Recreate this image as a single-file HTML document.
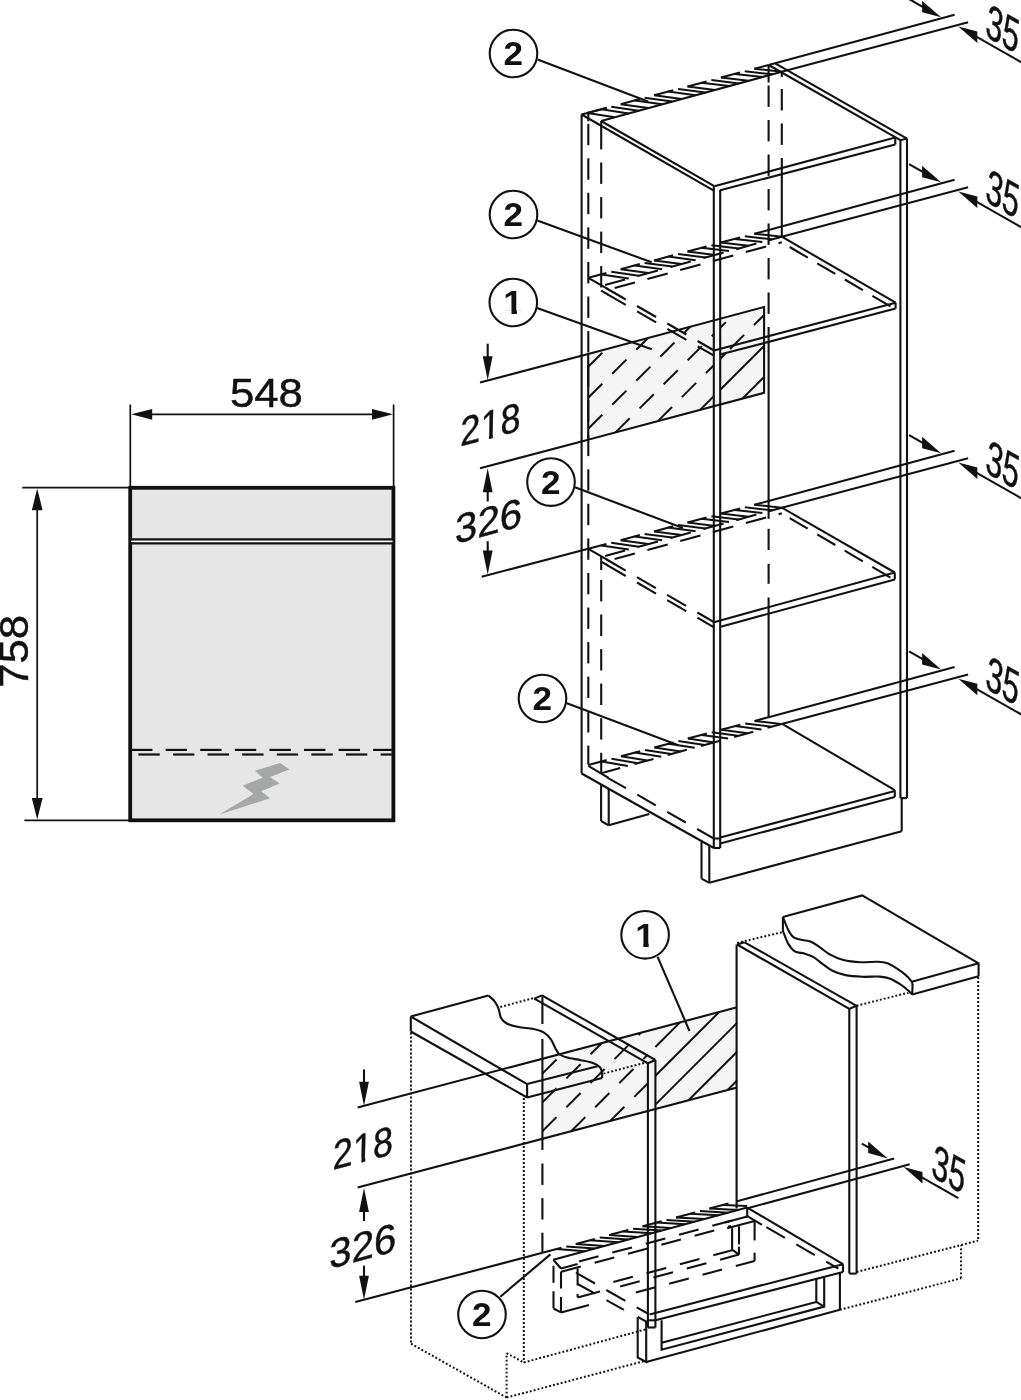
<!DOCTYPE html>
<html><head><meta charset="utf-8"><title>Installation drawing</title>
<style>
html,body{margin:0;padding:0;background:#fff}
svg{display:block;will-change:transform}
.s{fill:none;stroke:#111;stroke-width:2.1}
.s2{fill:none;stroke:#111;stroke-width:2.2}
.t{fill:none;stroke:#111;stroke-width:1.7}
.d{fill:none;stroke:#111;stroke-width:1.85;stroke-dasharray:17 8.5}
.h{fill:none;stroke:#111;stroke-width:2}
.hd{fill:none;stroke:#111;stroke-width:1.5;stroke-dasharray:20 10}
.dot{fill:none;stroke:#111;stroke-width:2;stroke-dasharray:1.9 2.1}
.ah{fill:#111;stroke:none}
.bolt{fill:#a6a8a7;stroke:none}
.c{fill:#fff;stroke:#111;stroke-width:2.1}
.g{fill:#f5f5f5;stroke:none}
.w{fill:#fff;stroke:none}
text{font-family:"Liberation Sans",sans-serif;fill:#111}
.n{font-size:41px;text-anchor:middle;stroke:#111;stroke-width:.45px}
.b{font-size:32.5px;font-weight:bold;text-anchor:middle}
</style></head><body>
<svg width="1021" height="1400" viewBox="0 0 1021 1400">
<rect width="1021" height="1400" fill="#fff"/>
<g id="left">
<rect x="130.2" y="487.8" width="263.2" height="332.5" fill="#e6e6e6" stroke="#111" stroke-width="3.8"/>
<path d="M131 541.4H392.6" stroke="#fafafa" stroke-width="2.4"/>
<path class="s2" d="M130.2 539.4L393.4 539.4"/>
<path class="s2" d="M130.2 543.3L393.4 543.3"/>
<path class="s2" d="M131 749.9L152.4 749.9"/>
<path class="s2" d="M165.6 749.9L187 749.9"/>
<path class="s2" d="M200.2 749.9L221.6 749.9"/>
<path class="s2" d="M234.8 749.9L256.2 749.9"/>
<path class="s2" d="M269.4 749.9L290.8 749.9"/>
<path class="s2" d="M304 749.9L325.4 749.9"/>
<path class="s2" d="M338.6 749.9L360 749.9"/>
<path class="s2" d="M373.2 749.9L392 749.9"/>
<path class="s2" d="M138.4 754.5L159.8 754.5"/>
<path class="s2" d="M173 754.5L194.4 754.5"/>
<path class="s2" d="M207.6 754.5L229 754.5"/>
<path class="s2" d="M242.2 754.5L263.6 754.5"/>
<path class="s2" d="M276.8 754.5L298.2 754.5"/>
<path class="s2" d="M311.4 754.5L332.8 754.5"/>
<path class="s2" d="M346 754.5L367.4 754.5"/>
<path class="s2" d="M380.6 754.5L392 754.5"/>
<path class="bolt" d="M279.9 763.1L289.5 769.4L270 777L279.6 783.6L261.2 791.3L270 798.2L219.3 814.6L253.5 794L242.6 785.8L262.6 777.6L254.9 770.7Z"/>
<path class="t" d="M130.3 404.5L130.3 487"/>
<path class="t" d="M393.6 404.5L393.6 487"/>
<path class="t" d="M140 414.3L384 414.3"/>
<path class="ah" d="M131.2 414.3L152.2 408.9L152.2 419.7Z"/>
<path class="ah" d="M393 414.3L372 419.7L372 408.9Z"/>
<text class="n" transform="translate(266.4 407.3) scale(1.065 1)">548</text>
<path class="t" d="M22.3 487.7L130 487.7"/>
<path class="t" d="M24.4 820.4L130 820.4"/>
<path class="t" d="M37.2 498L37.2 810"/>
<path class="ah" d="M37.2 488.6L42.6 510.3L31.8 510.3Z"/>
<path class="ah" d="M37.2 819.6L31.8 797.9L42.6 797.9Z"/>
<text class="n" transform="translate(28.3 651.3) rotate(-90) scale(1.065 1)">758</text>
</g>
<g id="tall">
<path class="g" d="M588.2 354L764.1 307L764.1 392.8L588.2 439.7Z"/>
<path class="h" d="M588.2 366.8L602.3 352.7"/>
<path class="h" d="M588.2 397.8L602.3 383.7"/>
<path class="h" d="M612.2 373.8L626.4 359.6"/>
<path class="h" d="M636.3 349.7L648 338"/>
<path class="h" d="M588.2 428.8L602.3 414.7"/>
<path class="h" d="M612.2 404.8L626.4 390.6"/>
<path class="h" d="M636.3 380.7L650.4 366.6"/>
<path class="h" d="M660.3 356.7L674.5 342.5"/>
<path class="h" d="M684.4 332.6L690.3 326.7"/>
<path class="h" d="M615.6 432.4L629.7 418.3"/>
<path class="h" d="M639.6 408.4L653.8 394.2"/>
<path class="h" d="M663.7 384.3L677.8 370.2"/>
<path class="h" d="M687.7 360.3L701.9 346.1"/>
<path class="h" d="M711.8 336.2L713.8 334.2"/>
<path class="h" d="M657.9 421.1L672 407"/>
<path class="h" d="M681.9 397.1L696.1 382.9"/>
<path class="h" d="M706 373L713.8 365.2"/>
<path class="h" d="M700.1 409.9L713.8 396.2"/>
<clipPath id="cpA"><path d="M720.2 300L764.1 300V342.9L720.2 354.6Z"/></clipPath>
<clipPath id="cpB"><path d="M720.2 354.6L764.1 342.9V400L720.2 410Z"/></clipPath>
<g clip-path="url(#cpA)">
<path class="h" d="M588.2 366.8L602.3 352.7"/>
<path class="h" d="M588.2 397.8L602.3 383.7"/>
<path class="h" d="M612.2 373.8L626.4 359.6"/>
<path class="h" d="M636.3 349.7L648 338"/>
<path class="h" d="M588.2 428.8L602.3 414.7"/>
<path class="h" d="M612.2 404.8L626.4 390.6"/>
<path class="h" d="M636.3 380.7L650.4 366.6"/>
<path class="h" d="M660.3 356.7L674.5 342.5"/>
<path class="h" d="M684.4 332.6L690.3 326.7"/>
<path class="h" d="M615.6 432.4L629.7 418.3"/>
<path class="h" d="M639.6 408.4L653.8 394.2"/>
<path class="h" d="M663.7 384.3L677.8 370.2"/>
<path class="h" d="M687.7 360.3L701.9 346.1"/>
<path class="h" d="M711.8 336.2L725.9 322.1"/>
<path class="h" d="M657.9 421.1L672 407"/>
<path class="h" d="M681.9 397.1L696.1 382.9"/>
<path class="h" d="M706 373L720.1 358.9"/>
<path class="h" d="M730 349L744.1 334.9"/>
<path class="h" d="M754 325L764.1 314.9"/>
<path class="h" d="M700.1 409.9L714.3 395.7"/>
<path class="h" d="M724.2 385.8L738.3 371.7"/>
<path class="h" d="M748.2 361.8L762.4 347.6"/>
<path class="h" d="M742.4 398.6L756.6 384.4"/>
</g><g clip-path="url(#cpB)">
<path class="h" d="M588.2 366.8L605.7 349.3"/>
<path class="h" d="M588.2 397.8L648 338"/>
<path class="h" d="M588.2 428.8L690.3 326.7"/>
<path class="h" d="M615.6 432.4L732.6 315.4"/>
<path class="h" d="M657.9 421.1L764.1 314.9"/>
<path class="h" d="M700.1 409.9L764.1 345.9"/>
<path class="h" d="M742.4 398.6L764.1 376.9"/>
</g>
<path class="s" d="M588.2 354L764.1 307L764.1 392.8L588.2 439.7Z"/>
<path class="s" d="M480 382.6L588.2 354"/>
<path class="s" d="M480 468.2L588.2 439.7"/>
<path class="s" d="M481.7 576.7L588.2 548.8"/>
<path class="s" d="M487.7 343.7L487.7 360"/>
<path class="ah" d="M487.7 380.3L482.8 356.3L492.6 356.3Z"/>
<path class="ah" d="M487.7 468.3L492.6 492.3L482.8 492.3Z"/>
<path class="s" d="M487.7 490L487.7 501.5"/>
<path class="s" d="M487.7 541.2L487.7 552"/>
<path class="ah" d="M487.7 574.5L482.8 550.5L492.6 550.5Z"/>
<g transform="matrix(0.88 -0.233 -0.02 1 490.2 438.5)"><text class="n">218</text><path class="w" d="M-10 -4.3h8.6v5.8h-8.6zM3 -4.3h8.4v5.8h-8.4z"/></g>
<text class="n" transform="matrix(0.98 -0.26 -0.02 1 488.3 535)">326</text>
<path class="s" d="M581.6 114.5L581.6 773.5"/>
<path class="s" d="M588.3 123.8L588.3 145.2"/>
<path class="s" d="M588.3 158.3L588.3 179.7"/>
<path class="s" d="M588.3 192.8L588.3 214.2"/>
<path class="s" d="M588.3 227.4L588.3 248.8"/>
<path class="s" d="M588.3 261.9L588.3 283.4"/>
<path class="s" d="M588.3 296.5L588.3 317.9"/>
<path class="s" d="M588.3 331.1L588.3 352.5"/>
<path class="s" d="M588.3 365.6L588.3 387"/>
<path class="s" d="M588.3 400.2L588.3 421.6"/>
<path class="s" d="M588.3 434.7L588.3 456.1"/>
<path class="s" d="M588.3 469.3L588.3 490.7"/>
<path class="s" d="M588.3 503.8L588.3 525.2"/>
<path class="s" d="M588.3 538.4L588.3 559.8"/>
<path class="s" d="M588.3 572.9L588.3 594.3"/>
<path class="s" d="M588.3 607.5L588.3 628.9"/>
<path class="s" d="M588.3 642L588.3 663.4"/>
<path class="s" d="M588.3 676.6L588.3 698"/>
<path class="s" d="M588.3 711.1L588.3 732.5"/>
<path class="s" d="M588.3 745.6L588.3 764.6"/>
<path class="s" d="M588.3 113.3L588.3 121.3"/>
<path class="s" d="M601.2 121L601.2 149.4"/>
<path class="s" d="M601.2 162.5L601.2 183.9"/>
<path class="s" d="M601.2 197.1L601.2 218.4"/>
<path class="s" d="M601.2 231.6L601.2 253"/>
<path class="s" d="M601.2 266.1L601.2 287.5"/>
<path class="s" d="M601.2 556L601.2 570"/>
<path class="s" d="M601.2 580L601.2 601.4"/>
<path class="s" d="M601.2 614.5L601.2 636"/>
<path class="s" d="M601.2 649.1L601.2 670.5"/>
<path class="s" d="M601.2 683.6L601.2 705"/>
<path class="s" d="M601.2 718.2L601.2 739.6"/>
<path class="s" d="M601.2 752.8L601.2 774"/>
<path class="s" d="M713.8 186.5L713.8 848"/>
<path class="s" d="M720.2 189.7L720.2 848"/>
<path class="s" d="M768.6 65L768.6 82.5"/>
<path class="s" d="M768.6 85.5L768.6 106.9"/>
<path class="s" d="M768.6 120L768.6 141.4"/>
<path class="s" d="M768.6 154.5L768.6 175.9"/>
<path class="s" d="M768.6 189L768.6 210.4"/>
<path class="s" d="M768.6 223.5L768.6 244.9"/>
<path class="s" d="M768.6 258L768.6 279.4"/>
<path class="s" d="M768.6 292.5L768.6 313.9"/>
<path class="s" d="M768.6 327L768.6 518.8"/>
<path class="s" d="M768.6 528.8L768.6 550"/>
<path class="s" d="M768.6 563.8L768.6 583.8"/>
<path class="s" d="M768.6 597.5L768.6 717.6"/>
<path class="s" d="M781.8 72L781.8 77"/>
<path class="s" d="M781.8 89L781.8 110.4"/>
<path class="s" d="M781.8 123.5L781.8 144.9"/>
<path class="s" d="M781.8 158L781.8 237.5"/>
<path class="s" d="M900.4 140.2L900.4 798.1"/>
<path class="s" d="M907 138.6L907 798.1"/>
<path class="s" d="M900.4 798.1L907 798.1"/>
<path class="s" d="M601.1 121L714.3 186.2"/>
<path class="s" d="M581.6 114.5L713.8 190.6"/>
<path class="s" d="M714.3 186.2L895.3 137.4"/>
<path class="s" d="M720.2 190.2L895.3 144.5"/>
<path class="s" d="M895.3 137.4L895.3 144.5"/>
<path class="s" d="M768.6 65L900.4 140.2"/>
<path class="s" d="M775.2 63.3L907 138.6"/>
<path class="s" d="M900.4 140.2L907 138.6"/>
<path class="s" d="M587.3 113L606.4 107.9"/>
<path class="h" d="M587.3 113L614.8 117.3"/>
<path class="h" d="M601.3 109.3L628.8 113.4"/>
<path class="s" d="M620.7 104.2L639.8 99.1"/>
<path class="h" d="M611.2 106.7L638.7 110.7"/>
<path class="h" d="M620.7 104.2L648.2 108.1"/>
<path class="h" d="M634.7 100.4L662.2 104.3"/>
<path class="s" d="M654.1 95.3L673.2 90.3"/>
<path class="h" d="M644.6 97.8L672.1 101.6"/>
<path class="h" d="M654.1 95.3L681.6 99"/>
<path class="h" d="M668.1 91.6L695.6 95.2"/>
<path class="s" d="M687.5 86.5L706.6 81.4"/>
<path class="h" d="M678 89L705.5 92.5"/>
<path class="h" d="M687.5 86.5L715 89.9"/>
<path class="h" d="M701.5 82.8L729 86.1"/>
<path class="s" d="M720.9 77.6L740 72.6"/>
<path class="h" d="M711.4 80.1L738.9 83.4"/>
<path class="h" d="M720.9 77.6L748.4 80.8"/>
<path class="h" d="M734.9 73.9L762.4 77"/>
<path class="s" d="M754.3 68.8L768.6 65"/>
<path class="h" d="M744.8 71.3L772.3 74.3"/>
<path class="h" d="M754.3 68.8L781.8 71.7"/>
<path class="s" d="M581.6 114.5L607 107.8"/>
<path class="s" d="M601.1 121L781.8 71.7"/>
<path class="s" d="M768.6 65L954.6 14.8"/>
<path class="s" d="M781.8 71.7L968.1 22.2"/>
<path class="s" d="M909.1 -0.9L923.1 7.1"/>
<path class="ah" d="M941.1 17.3L922.1 0.7L922.1 12.3Z"/>
<path class="s" d="M976.3 36.7L1024.3 64"/>
<path class="ah" d="M958.3 26.5L977.3 31.5L977.3 43.1Z"/>
<text class="n" transform="matrix(0.715 0.406 -0.15 1.15 1000.8 44.9)">35</text>
<path class="s" d="M588.3 277.8L606.4 273"/>
<path class="h" d="M601.3 274.4L628.8 278.4"/>
<path class="s" d="M620.7 269.2L639.8 264.1"/>
<path class="h" d="M611.2 271.7L638.7 275.7"/>
<path class="h" d="M620.7 269.2L648.2 273.1"/>
<path class="h" d="M634.7 265.5L662.2 269.3"/>
<path class="s" d="M654.1 260.4L673.2 255.3"/>
<path class="h" d="M644.6 262.9L672.1 266.6"/>
<path class="h" d="M654.1 260.4L681.6 264"/>
<path class="h" d="M668.1 256.6L695.6 260.2"/>
<path class="s" d="M687.5 251.5L706.6 246.4"/>
<path class="h" d="M678 254L705.5 257.5"/>
<path class="h" d="M687.5 251.5L715 254.9"/>
<path class="h" d="M701.5 247.8L729 251.1"/>
<path class="s" d="M720.9 242.6L740 237.6"/>
<path class="h" d="M711.4 245.2L738.9 248.4"/>
<path class="h" d="M720.9 242.6L748.4 245.8"/>
<path class="h" d="M734.9 238.9L762.4 242"/>
<path class="s" d="M754.3 233.8L768.6 230"/>
<path class="h" d="M744.8 236.3L772.3 239.3"/>
<path class="h" d="M754.3 233.8L781.8 236.7"/>
<path class="s" d="M605 284.9L625.2 279.4"/>
<path class="s" d="M637.8 276L658 270.5"/>
<path class="s" d="M670.6 267L690.8 261.5"/>
<path class="s" d="M703.4 258.1L723.6 252.6"/>
<path class="s" d="M736.2 249.2L756.4 243.6"/>
<path class="s" d="M769 240.2L781.8 236.7"/>
<path class="s" d="M614.6 287.9L634.9 282.4"/>
<path class="s" d="M647.4 279L667.7 273.4"/>
<path class="s" d="M680.2 270L700.5 264.5"/>
<path class="s" d="M713 261.1L733.3 255.5"/>
<path class="s" d="M745.8 252.1L766.1 246.6"/>
<path class="s" d="M778.6 243.2L781.8 242.3"/>
<path class="s" d="M768.6 230L954.6 179.8"/>
<path class="s" d="M781.8 236.7L968.1 187.2"/>
<path class="s" d="M909.1 164.1L923.1 172.1"/>
<path class="ah" d="M941.1 182.3L922.1 165.7L922.1 177.3Z"/>
<path class="s" d="M976.3 201.7L1024.3 229"/>
<path class="ah" d="M958.3 191.5L977.3 196.5L977.3 208.1Z"/>
<text class="n" transform="matrix(0.715 0.406 -0.15 1.15 1000.8 209.9)">35</text>
<path class="s" d="M588.3 548.8L606.4 544"/>
<path class="h" d="M601.3 545.4L628.8 549.4"/>
<path class="s" d="M620.7 540.2L639.8 535.1"/>
<path class="h" d="M611.2 542.7L638.7 546.7"/>
<path class="h" d="M620.7 540.2L648.2 544.1"/>
<path class="h" d="M634.7 536.5L662.2 540.3"/>
<path class="s" d="M654.1 531.4L673.2 526.3"/>
<path class="h" d="M644.6 533.9L672.1 537.6"/>
<path class="h" d="M654.1 531.4L681.6 535"/>
<path class="h" d="M668.1 527.6L695.6 531.2"/>
<path class="s" d="M687.5 522.5L706.6 517.4"/>
<path class="h" d="M678 525L705.5 528.5"/>
<path class="h" d="M687.5 522.5L715 525.9"/>
<path class="h" d="M701.5 518.8L729 522.1"/>
<path class="s" d="M720.9 513.6L740 508.6"/>
<path class="h" d="M711.4 516.2L738.9 519.4"/>
<path class="h" d="M720.9 513.6L748.4 516.8"/>
<path class="h" d="M734.9 509.9L762.4 513"/>
<path class="s" d="M754.3 504.8L768.6 501"/>
<path class="h" d="M744.8 507.3L772.3 510.3"/>
<path class="h" d="M754.3 504.8L781.8 507.7"/>
<path class="s" d="M605 555.9L625.2 550.4"/>
<path class="s" d="M637.8 547L658 541.5"/>
<path class="s" d="M670.6 538L690.8 532.5"/>
<path class="s" d="M703.4 529.1L723.6 523.6"/>
<path class="s" d="M736.2 520.2L756.4 514.6"/>
<path class="s" d="M769 511.2L781.8 507.7"/>
<path class="s" d="M614.6 558.9L634.9 553.4"/>
<path class="s" d="M647.4 550L667.7 544.4"/>
<path class="s" d="M680.2 541L700.5 535.5"/>
<path class="s" d="M713 532.1L733.3 526.5"/>
<path class="s" d="M745.8 523.1L766.1 517.6"/>
<path class="s" d="M778.6 514.2L781.8 513.3"/>
<path class="s" d="M768.6 501L954.6 450.8"/>
<path class="s" d="M781.8 507.7L968.1 458.2"/>
<path class="s" d="M909.1 435.1L923.1 443.1"/>
<path class="ah" d="M941.1 453.3L922.1 436.7L922.1 448.3Z"/>
<path class="s" d="M976.3 472.7L1024.3 500"/>
<path class="ah" d="M958.3 462.5L977.3 467.5L977.3 479.1Z"/>
<text class="n" transform="matrix(0.715 0.406 -0.15 1.15 1000.8 480.9)">35</text>
<path class="s" d="M588.3 765L606.7 760.1"/>
<path class="h" d="M601.6 761.5L627.9 765.9"/>
<path class="s" d="M621 756.3L640.1 751.3"/>
<path class="h" d="M611.5 758.8L637.8 763.2"/>
<path class="h" d="M621 756.3L647.3 760.6"/>
<path class="h" d="M635 752.6L661.3 756.8"/>
<path class="s" d="M654.4 747.5L673.5 742.4"/>
<path class="h" d="M644.9 750L671.2 754.1"/>
<path class="h" d="M654.4 747.5L680.7 751.5"/>
<path class="h" d="M668.4 743.8L694.7 747.7"/>
<path class="s" d="M687.8 738.6L706.9 733.6"/>
<path class="h" d="M678.3 741.1L704.6 745"/>
<path class="h" d="M687.8 738.6L714.1 742.4"/>
<path class="h" d="M701.8 734.9L728.1 738.6"/>
<path class="s" d="M721.2 729.8L740.3 724.7"/>
<path class="h" d="M711.7 732.3L738 735.8"/>
<path class="h" d="M721.2 729.8L747.5 733.3"/>
<path class="h" d="M735.2 726.1L761.5 729.4"/>
<path class="s" d="M754.6 720.9L768.6 717.2"/>
<path class="h" d="M745.1 723.4L771.4 726.7"/>
<path class="h" d="M754.6 720.9L780.9 724.1"/>
<path class="s" d="M601.1 773.2L620.2 768"/>
<path class="s" d="M634.4 764.1L653.5 758.9"/>
<path class="s" d="M667.7 755L686.8 749.8"/>
<path class="s" d="M701 746L720.1 740.7"/>
<path class="s" d="M734.2 736.9L753.3 731.7"/>
<path class="s" d="M767.5 727.8L781.8 723.9"/>
<path class="s" d="M768.6 717.2L954.6 667"/>
<path class="s" d="M781.8 723.9L968.1 674.4"/>
<path class="s" d="M909.1 651.3L923.1 659.3"/>
<path class="ah" d="M941.1 669.5L922.1 652.9L922.1 664.5Z"/>
<path class="s" d="M976.3 688.9L1024.3 716.2"/>
<path class="ah" d="M958.3 678.7L977.3 683.7L977.3 695.3Z"/>
<text class="n" transform="matrix(0.715 0.406 -0.15 1.15 1000.8 697.1)">35</text>
<path class="s" d="M781.8 236.7L895.6 302.7"/>
<path class="s" d="M789.7 247L807.8 257.7"/>
<path class="s" d="M817.2 263.3L835.3 273.9"/>
<path class="s" d="M844.8 279.5L862.9 290.2"/>
<path class="s" d="M872.4 295.8L890.5 306.4"/>
<path class="s" d="M895.6 302.7L895.6 308.6"/>
<path class="s" d="M895.6 302.7L714 350.5"/>
<path class="s" d="M895.6 308.6L719.9 354.6"/>
<path class="s" d="M588.3 277.8L608 289.1"/>
<path class="s" d="M601.1 290.6L608 294.5"/>
<path class="s" d="M606.7 288.5L625.8 299.5"/>
<path class="s" d="M637 306L656.1 317"/>
<path class="s" d="M667.3 323.5L686.4 334.5"/>
<path class="s" d="M697.6 341L714 350.5"/>
<path class="s" d="M606.7 293.8L625.8 304.8"/>
<path class="s" d="M637.1 311.3L656.1 322.3"/>
<path class="s" d="M667.4 328.8L686.4 339.8"/>
<path class="s" d="M697.7 346.3L714 355.7"/>
<path class="s" d="M781.8 507.7L894.8 572.5"/>
<path class="s" d="M789.7 518.1L807.7 528.7"/>
<path class="s" d="M817.2 534.4L835.3 545"/>
<path class="s" d="M844.7 550.6L862.8 561.3"/>
<path class="s" d="M872.3 566.9L890.4 577.6"/>
<path class="s" d="M894.8 572.5L894.8 579.4"/>
<path class="s" d="M894.8 572.5L714 622.2"/>
<path class="s" d="M894.8 579.4L719.9 626.9"/>
<path class="s" d="M588.3 548.8L608 560.1"/>
<path class="s" d="M601.1 561.6L608 565.5"/>
<path class="s" d="M606.7 559.5L625.7 570.6"/>
<path class="s" d="M636.9 577.1L655.9 588.2"/>
<path class="s" d="M667.1 594.8L686.1 605.9"/>
<path class="s" d="M697.4 612.5L714 622.2"/>
<path class="s" d="M606.7 564.9L625.7 576"/>
<path class="s" d="M637 582.5L656 593.6"/>
<path class="s" d="M667.2 600.1L686.2 611.2"/>
<path class="s" d="M697.4 617.7L714 627.4"/>
<path class="s" d="M781.8 723.6L894.8 790.2"/>
<path class="s" d="M894.8 790.2L894.8 797"/>
<path class="s" d="M894.8 790.9L720.2 837.5"/>
<path class="s" d="M894.8 797L720.2 843.4"/>
<path class="s" d="M588.3 765.9L608.5 777.9"/>
<path class="s" d="M607.3 777.6L625.9 788.2"/>
<path class="s" d="M637.3 794.7L655.8 805.4"/>
<path class="s" d="M667.2 811.9L685.8 822.5"/>
<path class="s" d="M697.1 829L714 838.7"/>
<path class="s" d="M581.6 773.5L713.8 848"/>
<path class="s" d="M713.8 848L720.2 848"/>
<path class="s" d="M713.8 838.5L720.2 838.5"/>
<path class="s" d="M601.1 784.6L601.1 821"/>
<path class="s" d="M608.7 789L608.7 825.3"/>
<path class="s" d="M601.1 821L608.7 825.3"/>
<path class="s" d="M608.7 825.3L649.3 814"/>
<path class="s" d="M701.5 841.5L701.5 878.6"/>
<path class="s" d="M709.3 846L709.3 882.8"/>
<path class="s" d="M701.5 878.6L709.3 882.8"/>
<path class="s" d="M709.3 882.8L901.7 831.3"/>
<path class="s" d="M901.7 798.1L901.7 831.3"/>
<path class="s" d="M537.6 59.6L648 101.4"/>
<circle class="c" cx="513.5" cy="53.5" r="23.8"/>
<text class="b" transform="translate(513.3 65.2) scale(1.08 1.01)">2</text>
<path class="s" d="M537.3 220.6L651.7 262.3"/>
<circle class="c" cx="513.5" cy="214.5" r="23.8"/>
<text class="b" transform="translate(513.3 226.2) scale(1.08 1.01)">2</text>
<path class="s" d="M537.1 308L651.7 349.2"/>
<circle class="c" cx="513.3" cy="302.5" r="23.8"/>
<text class="b" transform="translate(513.1 314.2) scale(1.08 1.01)">1</text>
<path class="w" d="M504.2 310.3h7.3v5.2h-7.3zM516.9 310.3h7v5.2h-7z"/>
<path class="s" d="M575 487.3L682.9 528"/>
<circle class="c" cx="551" cy="482.1" r="23.8"/>
<text class="b" transform="translate(550.8 493.8) scale(1.08 1.01)">2</text>
<path class="s" d="M566.3 702.9L678.3 745.2"/>
<circle class="c" cx="542.5" cy="698.5" r="23.8"/>
<text class="b" transform="translate(542.3 710.2) scale(1.08 1.01)">2</text>
</g>
<g id="bottom">
<path class="g" d="M542.4 1058.7L737.1 1007.3L737.1 1087.5L542.4 1138.8Z"/>
<path class="h" d="M542.4 1073.6L556.5 1059.5"/>
<path class="h" d="M542.4 1102.4L556.5 1088.3"/>
<path class="h" d="M566.4 1078.4L580.6 1064.2"/>
<path class="h" d="M590.5 1054.3L601.8 1043"/>
<path class="h" d="M542.4 1131.2L556.5 1117.1"/>
<path class="h" d="M566.4 1107.2L580.6 1093"/>
<path class="h" d="M590.5 1083.1L604.6 1069"/>
<path class="h" d="M614.5 1059.1L628.7 1044.9"/>
<path class="h" d="M638.6 1035L640.9 1032.7"/>
<path class="h" d="M571.2 1131.2L585.3 1117.1"/>
<path class="h" d="M595.2 1107.2L609.4 1093"/>
<path class="h" d="M619.3 1083.1L633.4 1069"/>
<path class="h" d="M643.3 1059.1L647.9 1054.5"/>
<path class="h" d="M655.4 1047L680 1022.4"/>
<path class="h" d="M610.3 1120.9L624.4 1106.8"/>
<path class="h" d="M634.3 1096.9L647.9 1083.3"/>
<path class="h" d="M655.4 1075.8L719.2 1012"/>
<path class="h" d="M655.4 1104.6L737.1 1022.9"/>
<path class="h" d="M688.5 1100.3L737.1 1051.7"/>
<path class="h" d="M727.6 1090L737.1 1080.5"/>
<path class="s" d="M357.6 1107.5L737.1 1007.3"/>
<path class="s" d="M357.6 1187.6L737.1 1087.5"/>
<path class="s" d="M355.3 1302.1L542.4 1252.8"/>
<path class="s" d="M364 1069.4L364 1085"/>
<path class="ah" d="M364 1105.8L359.1 1081.8L368.9 1081.8Z"/>
<path class="ah" d="M364 1188.1L368.9 1212.1L359.1 1212.1Z"/>
<path class="s" d="M364 1210L364 1221"/>
<path class="s" d="M364 1265.7L364 1278"/>
<path class="ah" d="M364 1299.8L359.1 1275.8L368.9 1275.8Z"/>
<g transform="matrix(0.88 -0.233 -0.02 1 362.6 1162)"><text class="n">218</text><path class="w" d="M-10 -4.3h8.6v5.8h-8.6zM3 -4.3h8.4v5.8h-8.4z"/></g>
<text class="n" transform="matrix(0.98 -0.26 -0.02 1 362.6 1260)">326</text>
<path class="s" d="M410.8 1016.5L488.4 995.5"/>
<path class="s" d="M488.4 995.5C489.5 996.5 493.1 999.3 494.8 1001.6C496.5 1003.9 497.7 1006.4 498.7 1009.1C499.7 1011.8 499.6 1015.3 500.9 1017.7C502.2 1020.1 503.8 1022 506.7 1023.5C509.6 1025 514 1026.1 518.5 1027C523 1027.9 529.3 1028.1 533.6 1029.1C537.9 1030.1 541.5 1031.1 544.4 1032.8C547.3 1034.5 549.1 1036.8 550.9 1039.3C552.7 1041.8 553.8 1045.4 555.2 1047.9C556.6 1050.4 557.5 1052.7 559.5 1054.3C561.5 1055.9 563.4 1056.6 567 1057.6C570.6 1058.6 576.7 1059.3 581 1060.2C585.3 1061.1 589.7 1061.8 592.9 1063C596.1 1064.2 598.5 1065.7 600 1067.3C601.5 1068.9 601.8 1071.8 602.1 1072.7"/>
<path class="s" d="M602.1 1072.7L602.1 1078"/>
<path class="s" d="M410.8 1016.5L527.1 1084.1"/>
<path class="s" d="M410.8 1031.5L527.1 1097.5"/>
<path class="s" d="M410.8 1016.5L410.8 1031.5"/>
<path class="s" d="M527.1 1084.1L527.1 1097.5"/>
<path class="s" d="M527.1 1084.1L597.5 1066.2"/>
<path class="s" d="M527.1 1097.5L602.1 1078"/>
<path class="dot" d="M500.3 1007L534.8 997.7"/>
<path class="dot" d="M603.5 1073.6L647.4 1062.2"/>
<path class="dot" d="M411 1032.5L411 1343.7"/>
<path class="dot" d="M523.8 1098L523.8 1362.5"/>
<path class="dot" d="M411 1343.7L506.6 1397.6"/>
<path class="dot" d="M506.6 1397.6L644.4 1361"/>
<path class="dot" d="M506.6 1397.6L506.6 1353.1"/>
<path class="dot" d="M506.6 1353.1L523.8 1362.5"/>
<path class="dot" d="M523.8 1362.5L645.6 1329.4"/>
<path class="s" d="M541.9 995.4L655.4 1060"/>
<path class="s" d="M534.3 998.6L647.9 1063.3"/>
<path class="s" d="M534.3 998.6L541.9 995.4"/>
<path class="s" d="M647.9 1063.3L655.4 1060"/>
<path class="s" d="M647.9 1063.3L647.9 1327.5"/>
<path class="s" d="M655.4 1060L655.4 1327.5"/>
<path class="s" d="M542.4 995.6L542.4 1024"/>
<path class="s" d="M542.4 1039L542.4 1150"/>
<path class="s" d="M542.4 1163.5L542.4 1184.9"/>
<path class="s" d="M542.4 1198.1L542.4 1219.5"/>
<path class="s" d="M542.4 1232.7L542.4 1252.8"/>
<path class="s" d="M542.4 1252.8L561.5 1247.7"/>
<path class="h" d="M556.4 1249.1L584.9 1251.3"/>
<path class="s" d="M575.8 1244L594.9 1238.9"/>
<path class="h" d="M566.3 1246.5L594.8 1248.6"/>
<path class="h" d="M575.8 1244L604.3 1246.1"/>
<path class="h" d="M589.8 1240.3L618.3 1242.3"/>
<path class="s" d="M609.2 1235.1L628.3 1230.1"/>
<path class="h" d="M599.7 1237.6L628.2 1239.6"/>
<path class="h" d="M609.2 1235.1L637.7 1237.1"/>
<path class="h" d="M623.2 1231.4L651.7 1233.3"/>
<path class="s" d="M642.6 1226.3L661.7 1221.2"/>
<path class="h" d="M633.1 1228.8L661.6 1230.6"/>
<path class="h" d="M642.6 1226.3L671.1 1228.1"/>
<path class="h" d="M656.6 1222.6L685.1 1224.3"/>
<path class="s" d="M676 1217.5L695.1 1212.4"/>
<path class="h" d="M666.5 1220L695 1221.7"/>
<path class="h" d="M676 1217.5L704.5 1219.1"/>
<path class="h" d="M690 1213.8L718.5 1215.3"/>
<path class="s" d="M709.4 1208.6L728.5 1203.6"/>
<path class="h" d="M699.9 1211.1L728.4 1212.7"/>
<path class="h" d="M709.4 1208.6L737.9 1210.1"/>
<path class="h" d="M723.4 1204.9L747.2 1206.1"/>
<path class="s" d="M553.3 1259.8L747.2 1207.6"/>
<path class="s" d="M737.1 1201.3L894.1 1158.4"/>
<path class="s" d="M747.6 1208.2L909.7 1164.2"/>
<path class="s" d="M861.8 1143.6L869.8 1148.2"/>
<path class="ah" d="M887.8 1158.4L868.2 1141.5L868.2 1153.1Z"/>
<path class="s" d="M921.5 1177.2L958.3 1198.1"/>
<path class="ah" d="M903.5 1167L922.5 1172L922.5 1183.6Z"/>
<text class="n" transform="matrix(0.715 0.406 -0.15 1.15 946.9 1185.2)">35</text>
<path class="s" d="M747.2 1207.6L843 1264.2"/>
<path class="s" d="M747.2 1207.6L747.2 1216.5"/>
<path class="s" d="M843 1264.2L843 1272"/>
<path class="s" d="M747.3 1216.2L762 1224.8"/>
<path class="s" d="M766.4 1227.2L784.9 1237.9"/>
<path class="s" d="M796.3 1244.4L814.8 1255.1"/>
<path class="s" d="M826.2 1261.6L838.3 1268.6"/>
<path class="s" d="M843 1264.2L649.5 1314.4"/>
<path class="s" d="M843 1272L655.4 1320.3"/>
<path class="s" d="M839.9 1272L839.9 1309.8"/>
<path class="s" d="M839.9 1309.8L646.2 1362"/>
<path class="s" d="M661.6 1320.3L661.6 1349.7L824.2 1306.6L824.2 1276.8"/>
<path class="s" d="M661.6 1342.8L816.3 1301.9L816.3 1278.3"/>
<path class="s" d="M816.3 1301.9L824.2 1306.6"/>
<path class="s" d="M637.7 1316.9L637.7 1357.5L646.2 1362L646.2 1321.6"/>
<path class="s" d="M637.7 1316.9L647.9 1322.5"/>
<path class="s" d="M647.9 1327.5L655.4 1327.5"/>
<path class="s" d="M647.9 1320.3L655.4 1320.3"/>
<path class="s" d="M575.9 1272.7L595 1283.5"/>
<path class="s" d="M606.3 1290L625.4 1300.8"/>
<path class="s" d="M636.7 1307.3L647.5 1313.4"/>
<path class="s" d="M577.6 1284L595.1 1293.7"/>
<path class="s" d="M606.4 1300.1L623.9 1309.8"/>
<path class="s" d="M553.5 1265.8L553.5 1282.8"/>
<path class="s" d="M553.5 1291.3L553.5 1308.3"/>
<path class="s" d="M561 1271.5L561 1288.5"/>
<path class="s" d="M561 1297L561 1312.4"/>
<path class="s" d="M577.6 1268.4L577.6 1285.4"/>
<path class="s" d="M577.6 1293.9L577.6 1297.4"/>
<path class="s" d="M553.5 1308.5L561 1312.4"/>
<path class="s" d="M561 1312.4L589 1305"/>
<path class="s" d="M577.6 1297.4L600 1291.5"/>
<path class="s" d="M553.3 1259.8L561 1268.5"/>
<path class="s" d="M561 1268.5L577.6 1264"/>
<path class="s" d="M579 1261.6L598.6 1256.3"/>
<path class="s" d="M612.3 1252.6L632 1247.4"/>
<path class="s" d="M645.7 1243.7L665.3 1238.4"/>
<path class="s" d="M679 1234.7L698.6 1229.5"/>
<path class="s" d="M712.3 1225.8L731.9 1220.5"/>
<path class="s" d="M745.6 1216.9L747.3 1216.4"/>
<path class="s" d="M561.3 1271.7L580.9 1266.4"/>
<path class="s" d="M594.6 1262.7L614.2 1257.4"/>
<path class="s" d="M628 1253.8L647.6 1248.5"/>
<path class="s" d="M661.3 1244.8L680.9 1239.5"/>
<path class="s" d="M694.6 1235.8L714.2 1230.5"/>
<path class="s" d="M727.9 1226.8L731 1226"/>
<path class="s" d="M613.3 1282.1L632.9 1276.8"/>
<path class="s" d="M646.6 1273.2L666.2 1267.9"/>
<path class="s" d="M679.9 1264.2L699.5 1258.9"/>
<path class="s" d="M713.3 1255.3L732.1 1250.2"/>
<path class="s" d="M620.1 1286.4L639.7 1281.2"/>
<path class="s" d="M653.4 1277.5L673 1272.2"/>
<path class="s" d="M686.8 1268.6L706.4 1263.3"/>
<path class="s" d="M720.1 1259.7L739 1254.6"/>
<path class="s" d="M635.8 1292.5L655.4 1287.3"/>
<path class="s" d="M669.1 1283.7L688.8 1278.5"/>
<path class="s" d="M702.5 1274.8L722.1 1269.6"/>
<path class="s" d="M735.8 1266L754.6 1261"/>
<path class="s" d="M725 1222.4L747.3 1216.4"/>
<path class="s" d="M727.2 1228.2L754.6 1220.9"/>
<path class="s" d="M732.1 1228.2L732.1 1249.7"/>
<path class="s" d="M739 1226.2L739 1244.4"/>
<path class="s" d="M739 1246.6L739 1254.6"/>
<path class="s" d="M754.6 1220.9L754.6 1240.4"/>
<path class="s" d="M754.6 1252.7L754.6 1261"/>
<path class="s" d="M732.1 1249.7L739 1254.6"/>
<path class="s" d="M737.1 944.5L849.3 1008.9"/>
<path class="s" d="M744.6 942.3L856.6 1005.8"/>
<path class="s" d="M737.1 944.5L744.6 942.3"/>
<path class="s" d="M849.3 1008.9L856.6 1005.8"/>
<path class="s" d="M736.6 944.5L736.6 1208.5"/>
<path class="s" d="M849.3 1008.9L849.3 1273.6"/>
<path class="s" d="M856.6 1005.8L856.6 1273.6"/>
<path class="s" d="M849.3 1273.6L856.6 1273.6"/>
<path class="dot" d="M737.1 942.9L783.3 931.9"/>
<path class="dot" d="M856.6 1005.8L912.2 991.6"/>
<path class="dot" d="M978.2 977L978.2 1240.6"/>
<path class="dot" d="M856.6 1272L978.2 1240.6"/>
<path class="dot" d="M839.9 1309.8L961 1278.3"/>
<path class="dot" d="M961 1278.3L961 1245.3"/>
<path class="w" d="M782.9 916.9L862.2 895.4L978.6 963.3V976.2L912.2 994.5L782.9 930.9Z"/>
<path class="s" d="M782.9 916.9L862.2 895.4L978.6 963.3L978.6 976.2"/>
<path class="s" d="M782.9 916.9C783.8 919.1 786.5 926.5 788.3 929.9C790.1 933.3 791.4 935.7 793.7 937.4C796 939.1 799.4 939.3 802.3 940C805.2 940.7 808 940.5 810.9 941.7C813.8 942.9 816.4 944.9 819.6 947.1C822.8 949.3 826.3 952.6 830.3 954.7C834.2 956.9 838.3 958.8 843.3 960C848.3 961.2 854.8 961.9 860.5 962.2C866.2 962.5 873.3 961.6 877.8 961.8C882.3 962 884.2 962.1 887.4 963.3C890.6 964.4 894 966.7 897.1 968.7C900.2 970.7 903.4 973.1 905.8 975.1C908.1 977.1 910.1 979.5 911.2 981C912.3 982.5 912.4 983.5 912.6 984"/>
<path class="s" d="M782.9 930.9C783.8 933.1 786.3 940.5 788.3 943.9C790.3 947.3 792.1 949.8 794.8 951.4C797.5 953 801.5 952.7 804.5 953.6C807.5 954.5 810.2 955.2 813.1 956.8C816 958.4 818.5 961 821.7 963.3C824.9 965.6 828.5 968.8 832.5 970.8C836.5 972.8 840.4 974.1 845.4 975.1C850.4 976.1 857 976.5 862.7 976.8C868.5 977 875.4 976.3 879.9 976.6C884.4 976.9 886.4 977.2 889.6 978.4C892.8 979.6 896.2 981.7 899.3 983.7C902.3 985.7 905.8 988.4 907.9 990.2C910 992 911.5 993.8 912.2 994.5"/>
<path class="s" d="M782.9 916.9L782.9 930.9"/>
<path class="s" d="M912.6 984L912.2 994.5"/>
<path class="s" d="M911.8 981.8L978.6 963.3"/>
<path class="s" d="M912.2 994.5L978.6 976.2"/>
<path class="s" d="M657.6 956.8L689.5 1031"/>
<circle class="c" cx="645.1" cy="934.8" r="23.8"/>
<text class="b" transform="translate(644.9 946.5) scale(1.08 1.01)">1</text>
<path class="w" d="M636 942.6h7.3v5.2h-7.3zM648.7 942.6h7v5.2h-7z"/>
<path class="s" d="M500.3 1296.7L550.4 1254.4"/>
<circle class="c" cx="482" cy="1314.5" r="23.8"/>
<text class="b" transform="translate(481.8 1326.2) scale(1.08 1.01)">2</text>
</g>
</svg></body></html>
